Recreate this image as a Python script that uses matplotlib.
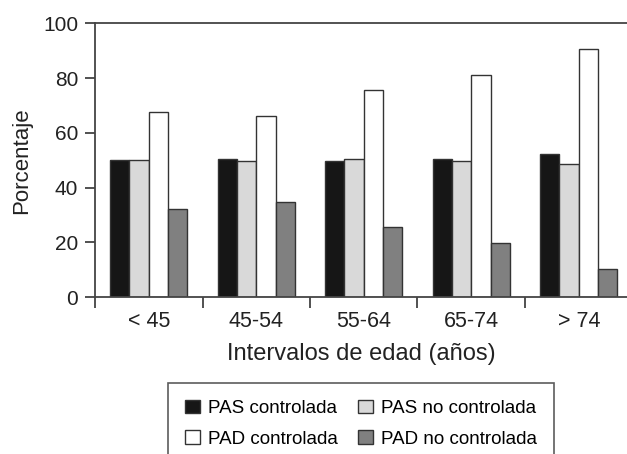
import numpy as np
import matplotlib.pyplot as plt
from matplotlib.ticker import FixedLocator

plt.rcParams['font.family'] = ['Liberation Sans', 'DejaVu Sans']

# data
grupos = ['< 45', '45-54', '55-64', '65-74', '> 74']
pas_ctrl = [50.2, 50.6, 49.7, 50.6, 52.2]
pas_no_ctrl = [50.2, 49.9, 50.6, 49.9, 48.6]
pad_ctrl = [67.7, 66.2, 75.5, 81.1, 90.7]
pad_no_ctrl = [32.3, 34.8, 25.8, 19.7, 10.2]

series = [
    ('PAS controlada', pas_ctrl, '#161616'),
    ('PAS no controlada', pas_no_ctrl, '#d9d9d9'),
    ('PAD controlada', pad_ctrl, '#ffffff'),
    ('PAD no controlada', pad_no_ctrl, '#808080'),
]

fig = plt.figure(figsize=(6.27, 4.54), dpi=100)
ax = fig.add_axes([95 / 627, 1 - 297.3 / 454, 1 - 95 / 627, (297.3 - 23.3) / 454])

x = np.arange(len(grupos)) + 0.5
w = 0.18
handles = []
for i, (name, vals, col) in enumerate(series):
    b = ax.bar(x + (i - 1.5) * w, vals, w, color=col, edgecolor='#333333',
               linewidth=1.0, label=name, zorder=2)
    handles.append(b)

ax.set_xlim(0, (627 - 95) / 107.5)
ax.set_ylim(0, 100)
ax.set_yticks([0, 20, 40, 60, 80, 100])

ax.xaxis.set_major_locator(FixedLocator([0, 1, 2, 3, 4]))
ax.xaxis.set_major_formatter(plt.NullFormatter())
ax.xaxis.set_minor_locator(FixedLocator(x))
ax.set_xticklabels(grupos, minor=True)
ax.tick_params(axis='x', which='minor', length=0, pad=10, labelsize=15.5, colors='#222222')
ax.tick_params(axis='x', which='major', length=8, width=1.2, color='#333333', direction='out')
ax.tick_params(axis='y', length=7, width=1.2, color='#333333', labelsize=15,
               labelcolor='#222222', pad=5)

for s in ['left', 'bottom', 'top']:
    ax.spines[s].set_color('#444444')
    ax.spines[s].set_linewidth(1.3)
ax.spines['right'].set_visible(False)

ax.set_xlabel('Intervalos de edad (años)', fontsize=17, color='#222222', labelpad=8)
ax.set_ylabel('Porcentaje', fontsize=16, color='#222222', labelpad=8)

# legend filled row by row
orden = [0, 2, 1, 3]
leg = fig.legend([handles[k] for k in orden], [series[k][0] for k in orden],
                 loc='upper left', bbox_to_anchor=(168.3 / 627, 1 - 382.7 / 454),
                 ncol=2, fontsize=13.5, frameon=True, fancybox=False,
                 handlelength=0.8, handleheight=0.75, handletextpad=0.4,
                 columnspacing=1.1, borderpad=0.9, labelspacing=0.7,
                 borderaxespad=0)
leg.get_frame().set_edgecolor('#333333')
leg.get_frame().set_linewidth(1.2)

fig.savefig('out.png', dpi=100)
